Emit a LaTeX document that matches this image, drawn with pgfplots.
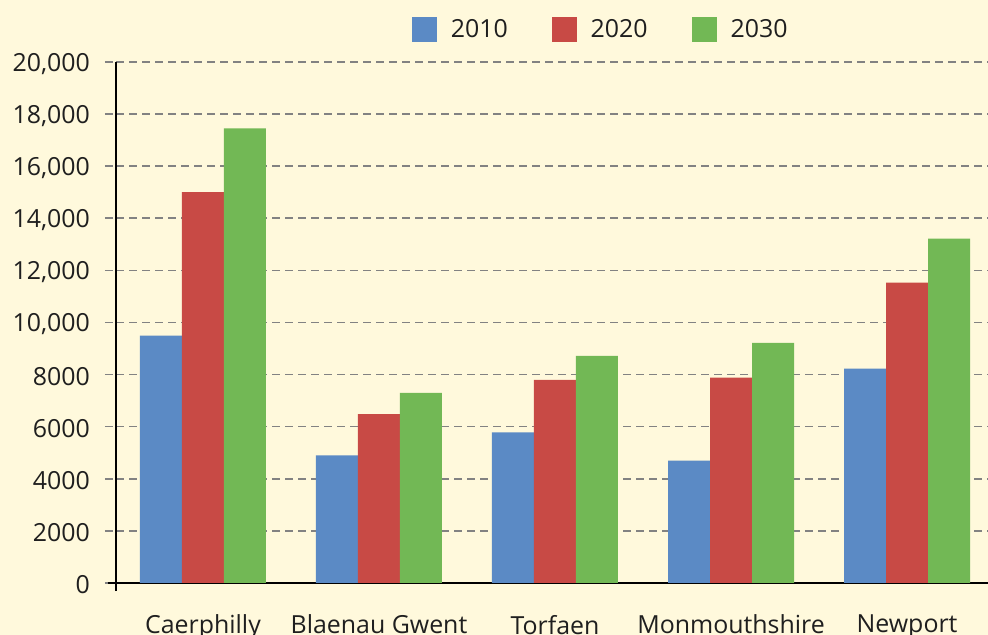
\documentclass[border=0pt]{standalone}
\usepackage{fontspec}
\setmainfont{Open Sans}
\usepackage{pgfplots}
\pgfplotsset{compat=1.18}
\definecolor{bgcream}{RGB}{255,249,220}
\definecolor{cblue}{RGB}{91,138,197}
\definecolor{cred}{RGB}{200,74,69}
\definecolor{cgreen}{RGB}{114,184,85}
\definecolor{gridgray}{RGB}{130,130,130}

\begin{document}
\begin{tikzpicture}
\useasboundingbox[fill=bgcream] (0,0) rectangle (494bp,317.5bp);
\begin{axis}[
  at={(58bp,26bp)}, anchor=south west,
  scale only axis,
  width=436bp, height=260.5bp,
  ybar=0pt, bar width=21bp,
  xmin=-0.494, xmax=4.46,
  ymin=0, ymax=20000,
  axis lines=left,
  axis line style={-, black, line width=0.7bp, shorten <=-4bp},
  xtick={0,1,2,3,4},
  xticklabels={Caerphilly,Blaenau Gwent,Torfaen,Monmouthshire,Newport},
  x tick style={draw=none},
  ytick={0,2000,...,20000},
  yticklabels={0,2000,4000,6000,8000,{10,000},{12,000},{14,000},{16,000},{18,000},{20,000}},
  scaled y ticks=false,
  tick align=outside,
  major tick length=5.5bp,
  y tick style={gridgray, line width=0.8bp, dash pattern=on 4bp off 2.5bp},
  ymajorgrids,
  major grid style={gridgray, line width=0.8bp, dash pattern=on 4bp off 2.5bp},
  tick label style={font=\fontsize{12.5}{15}\selectfont, text=black!88},
  xticklabel style={yshift=-7bp},
  yticklabel style={xshift=-4bp, yshift=-1bp},
  legend columns=3,
  legend style={draw=none, fill=none, at={(rel axis cs:0.557,1.062)}, anchor=center,
    font=\fontsize{12.5}{15}\selectfont, text=black!88,
    /tikz/every odd column/.append style={column sep=5bp},
    /tikz/every even column/.append style={column sep=20bp}},
  legend image code/.code={\fill[#1] (0bp,-6.25bp) rectangle (12.5bp,6.25bp);},
]
\addplot[fill=cblue, draw=none] coordinates {(0,9500) (1,4900) (2,5780) (3,4700) (4,8230)};
\addlegendentry{2010}
\addplot[fill=cred, draw=none] coordinates {(0,15000) (1,6480) (2,7800) (3,7880) (4,11530)};
\addlegendentry{2020}
\addplot[fill=cgreen, draw=none] coordinates {(0,17450) (1,7300) (2,8720) (3,9220) (4,13220)};
\addlegendentry{2030}
\end{axis}
\end{tikzpicture}
\end{document}
